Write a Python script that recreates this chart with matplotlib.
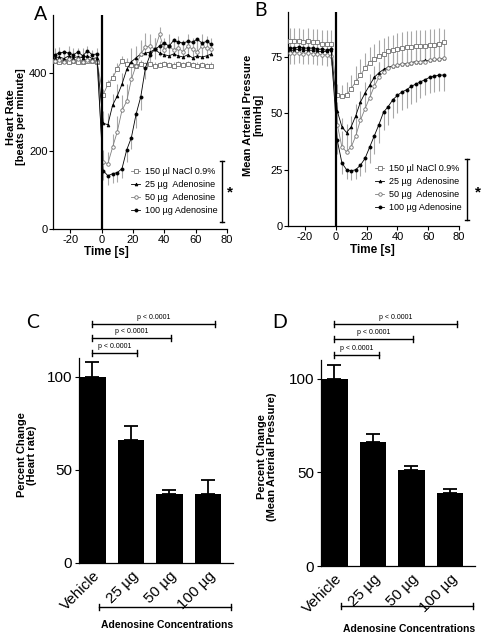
import matplotlib
matplotlib.use("Agg")
import matplotlib.pyplot as plt
import numpy as np

plt.rcParams['font.family'] = ['Liberation Sans', 'DejaVu Sans']
plt.rcParams['axes.unicode_minus'] = False

# time points (s)
time_s = [-30, -27, -24, -21, -18, -15, -12, -9, -6, -3,
          1, 4, 7, 10, 13, 16, 19, 22, 25, 28, 31, 34, 37, 40, 43, 46, 49, 52, 55, 58, 61, 64, 67, 70]

series_labels = ["150 \u00b5l NaCl 0.9%", "25 \u00b5g  Adenosine", "50 \u00b5g  Adenosine", "100 \u00b5g Adenosine"]

# Panel A - heart rate (beats per minute)
hr_nacl = [432, 430, 433, 428, 432, 430, 428, 431, 433, 430,
           345, 372, 388, 412, 432, 425, 422, 420, 425, 422, 424, 420, 421, 425, 422, 420, 423, 421, 425, 422, 420, 421, 419, 420]
hr_25 = [440, 442, 438, 445, 440, 443, 440, 445, 438, 440,
         272, 268, 318, 342, 372, 410, 430, 440, 450, 452, 455, 462, 452, 448, 445, 450, 445, 442, 448, 440, 445, 442, 445, 450]
hr_50 = [432, 435, 430, 438, 432, 436, 430, 434, 432, 430,
         172, 168, 210, 250, 305, 328, 385, 420, 450, 468, 470, 462, 500, 460, 470, 460, 465, 455, 470, 462, 455, 470, 465, 462]
hr_100 = [448, 452, 455, 452, 448, 455, 445, 458, 448, 450,
          150, 137, 142, 145, 155, 203, 235, 295, 340, 415, 448, 462, 470, 478, 470, 485, 480, 478, 482, 480, 488, 478, 482, 475]
hr_err_nacl = [20, 22, 18, 20, 22, 20, 18, 20, 22, 20,
               15, 12, 12, 14, 12, 10, 10, 10, 10, 8, 8, 8, 8, 8, 8, 8, 8, 8, 8, 8, 8, 8, 8, 8]
hr_err_25 = [25, 25, 22, 25, 25, 22, 25, 25, 22, 25,
             30, 30, 30, 30, 30, 30, 35, 30, 30, 30, 30, 30, 30, 25, 25, 25, 25, 25, 25, 25, 25, 25, 25, 25]
hr_err_50 = [25, 25, 25, 25, 25, 25, 25, 25, 25, 25,
             30, 30, 35, 40, 40, 45, 40, 40, 35, 35, 30, 30, 20, 30, 30, 30, 30, 30, 30, 30, 30, 30, 30, 30]
hr_err_100 = [20, 20, 20, 20, 20, 20, 20, 20, 20, 20,
              25, 25, 25, 25, 25, 30, 30, 35, 35, 30, 30, 25, 25, 25, 25, 25, 25, 25, 25, 25, 25, 25, 25, 25]

# Panel B - mean arterial pressure (mmHg)
map_nacl = [82, 82, 82, 81.5, 82, 81.5, 81.5, 81, 81, 81,
            58, 57.5, 58, 61, 64, 67, 70, 72.5, 74, 75.5, 76.5, 77.5, 78, 78.5, 79, 79.5, 79.5, 80, 80, 80, 80.5, 80.5, 81, 81.5]
map_25 = [78, 78, 78.5, 78, 78, 78, 77.5, 77.5, 77.5, 78,
          51, 44, 41.5, 44, 49, 55, 59, 62.5, 66, 68, 69.5, 70.5, 71, 71.5, 72, 72, 72.5, 73, 73, 73.5, 73.5, 74, 74, 74.5]
map_50 = [77, 77, 77, 76.5, 77, 76.5, 76.5, 76, 76, 75.5,
          45, 35, 33, 35, 40, 47, 52, 57, 62, 66, 68.5, 70, 71, 71.5, 72, 72, 72.5, 73, 73, 73, 73.5, 74, 74, 74.5]
map_100 = [79, 79, 79.5, 79, 79, 79, 78.5, 78.5, 78, 78.5,
           38, 28, 25, 24.5, 25, 27, 30, 35, 40, 45, 50.5, 53, 56, 58, 59.5, 60.5, 62, 63, 64, 65, 66, 66.5, 67, 67]
map_err_nacl = [6, 6, 6, 6, 6, 6, 6, 6, 6, 6,
                5, 5, 6, 6, 7, 7, 7, 7, 7, 7, 7, 7, 7, 7, 7, 7, 7, 7, 7, 7, 7, 7, 7, 6]
map_err_25 = [4, 4, 4, 4, 4, 4, 4, 4, 4, 4,
              4, 4, 4, 5, 5, 5, 5, 5, 5, 5, 5, 5, 5, 5, 5, 5, 5, 5, 5, 5, 5, 5, 5, 5]
map_err_50 = [7, 7, 7, 7, 7, 7, 7, 7, 7, 7,
              6, 7, 8, 8, 8, 8, 8, 8, 7, 7, 7, 7, 7, 7, 7, 7, 7, 7, 7, 7, 7, 7, 7, 7]
map_err_100 = [7, 7, 7, 7, 7, 7, 7, 7, 7, 7,
               6, 5, 4, 4, 4, 5, 6, 7, 8, 8, 8, 8, 8, 8, 8, 8, 8, 8, 7, 7, 7, 7, 7, 7]

# Panels C / D - percent change
groups = ["Vehicle", "25 \u00b5g", "50 \u00b5g", "100 \u00b5g"]
hr_pct = [100, 66, 37, 37]
hr_pct_err = [7.6, 7.5, 2.3, 7.7]
map_pct = [100, 66, 51.3, 38.8]
map_pct_err = [7.3, 4.4, 2.1, 2.1]
p_labels = ["p < 0.0001", "p < 0.0001", "p < 0.0001"]

W, H = 484, 636
fig = plt.figure(figsize=(W / 100, H / 100), dpi=100)


def px_axes(l, r, t, b):
    return fig.add_axes([l / W, 1 - b / H, (r - l) / W, (b - t) / H])


styles = [
    dict(color='#808080', marker='s', mfc='white', mec='#707070', ms=2.4),
    dict(color='black', marker='^', mfc='black', mec='black', ms=2.0),
    dict(color='#808080', marker='o', mfc='white', mec='#707070', ms=2.5),
    dict(color='black', marker='o', mfc='black', mec='black', ms=2.2),
]
err_dir = ['up', 'up', 'up', 'down']


def time_panel(ax, ys, errs, ylim, yticks):
    for y, e, st, d, lab in zip(ys, errs, styles, err_dir, series_labels):
        y = np.array(y, float)
        e = np.array(e, float)
        if d == 'up':
            yerr = [np.zeros_like(e), e]
        else:
            yerr = [e, np.zeros_like(e)]
        ax.errorbar(time_s, y, yerr=yerr, fmt='none', ecolor='#a8a8a8', elinewidth=0.8, capsize=0, zorder=1)
        ax.plot(time_s, y, lw=0.6, mew=0.6, label=lab, zorder=3, **st)
    ax.axvline(0, color='black', lw=1.6, zorder=4)
    ax.set_xlim(-31, 80)
    ax.set_ylim(*ylim)
    ax.set_xticks([-20, 0, 20, 40, 60, 80])
    ax.set_yticks(yticks)
    for s in ['top', 'right']:
        ax.spines[s].set_visible(False)
    for s in ['left', 'bottom']:
        ax.spines[s].set_linewidth(0.9)
    ax.tick_params(labelsize=8, length=3, width=0.8, pad=1)


def sig_bracket(ax, x0, x1, y, h, lw=1.0):
    ax.plot([x0, x1], [y, y], color='black', lw=lw, clip_on=False)
    ax.plot([x0, x0], [y - h, y + h], color='black', lw=lw, clip_on=False)
    ax.plot([x1, x1], [y - h, y + h], color='black', lw=lw, clip_on=False)


# ---- A ----
axA = px_axes(53, 227, 15, 229)
time_panel(axA, [hr_nacl, hr_25, hr_50, hr_100], [hr_err_nacl, hr_err_25, hr_err_50, hr_err_100], (0, 550), [0, 200, 400])
axA.legend(loc='upper left', bbox_to_anchor=(0.45, 0.29), frameon=False, fontsize=6.5,
           borderaxespad=0, borderpad=0, handlelength=1.0, handletextpad=0.5, labelspacing=0.45)
axA.plot([76.8, 76.8], [18, 175], color='black', lw=1.0, clip_on=False)
axA.plot([75.3, 78.3], [175, 175], color='black', lw=1.0, clip_on=False)
axA.plot([75.3, 78.3], [18, 18], color='black', lw=1.0, clip_on=False)
axA.text(82, 95, '*', fontsize=11, fontweight='bold', ha='center', va='center', clip_on=False)

# ---- B ----
axB = px_axes(288, 459, 12, 226)
time_panel(axB, [map_nacl, map_25, map_50, map_100], [map_err_nacl, map_err_25, map_err_50, map_err_100], (0, 95), [0, 25, 50, 75])
axB.legend(loc='upper left', bbox_to_anchor=(0.51, 0.29), frameon=False, fontsize=6.5,
           borderaxespad=0, borderpad=0, handlelength=1.0, handletextpad=0.5, labelspacing=0.45)
axB.plot([85.2, 85.2], [2.7, 29.7], color='black', lw=1.0, clip_on=False)
axB.plot([83.6, 86.8], [29.7, 29.7], color='black', lw=1.0, clip_on=False)
axB.plot([83.6, 86.8], [2.7, 2.7], color='black', lw=1.0, clip_on=False)
axB.text(92, 15, '*', fontsize=11, fontweight='bold', ha='center', va='center', clip_on=False)


def bar_panel(ax, vals, errs, br_y, conc_y):
    x = np.arange(len(groups))
    ax.bar(x, vals, width=0.7, color='black', zorder=2)
    ax.errorbar(x, vals, yerr=[np.zeros(len(errs)), errs], fmt='none', ecolor='black',
                elinewidth=1.3, capsize=5, capthick=1.3, zorder=1)
    ax.set_xlim(-0.35, 3.65)
    ax.set_ylim(0, 110)
    ax.set_yticks([0, 50, 100])
    ax.set_xticks(x)
    ax.set_xticklabels(groups, rotation=45, ha='right', rotation_mode='anchor')
    for s in ['top', 'right']:
        ax.spines[s].set_visible(False)
    for s in ['left', 'bottom']:
        ax.spines[s].set_linewidth(0.9)
    ax.tick_params(labelsize=11, length=3, width=0.8, pad=2)
    ax.tick_params(axis='x', length=0, pad=4)
    ends = [1.15, 2.05, 3.18]
    for xe, yb, lab in zip(ends, br_y, p_labels):
        sig_bracket(ax, 0, xe, yb, 1.5)
        ax.text(xe / 2, yb + 1.8, lab, fontsize=5, ha='center', va='bottom', clip_on=False)
    sig_bracket(ax, 0.17, 3.6, conc_y, 1.8)


# ---- C ----
axC = px_axes(79, 233, 358, 563)
bar_panel(axC, hr_pct, hr_pct_err, [112.7, 120.7, 128.2], -23.6)
# ---- D ----
axD = px_axes(321, 475, 360, 566)
bar_panel(axD, map_pct, map_pct_err, [112.7, 121.2, 129.2], -21.4)


def ftext(x, y, s, **kw):
    fig.text(x / W, 1 - y / H, s, **kw)


lab_kw = dict(fontsize=8, fontweight='bold', ha='center', va='center', linespacing=1.1)
ftext(16, 117, "Heart Rate\n[beats per minute]", rotation=90, **lab_kw)
ftext(253, 115, "Mean Arterial Pressure\n[mmHg]", rotation=90, **lab_kw)
ftext(27, 455, "Percent Change\n(Heart rate)", rotation=90, **lab_kw)
ftext(267, 457, "Percent Change\n(Mean Arterial Pressure)", rotation=90, **lab_kw)
ftext(106, 252, "Time [s]", fontsize=8.5, fontweight='bold', ha='center', va='center')
ftext(372, 250, "Time [s]", fontsize=8.5, fontweight='bold', ha='center', va='center')
ftext(167, 625, "Adenosine Concentrations", fontsize=7.5, fontweight='bold', ha='center', va='center')
ftext(409, 629, "Adenosine Concentrations", fontsize=7.5, fontweight='bold', ha='center', va='center')

letter_kw = dict(fontsize=14, ha='center', va='center', family=['Lato', 'DejaVu Sans'])
ftext(41, 14, "A", **letter_kw)
ftext(261, 11, "B", **letter_kw)
ftext(33, 322, "C", **letter_kw)
ftext(280, 322, "D", **letter_kw)

fig.savefig("out.png", dpi=100)
